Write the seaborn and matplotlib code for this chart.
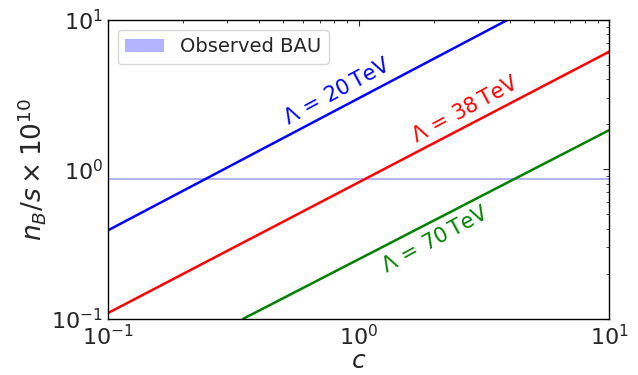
import numpy as np
import pandas as pd
import matplotlib
matplotlib.use("Agg")
import matplotlib.pyplot as plt
import seaborn as sns

# Data (straight lines in log-log space: endpoints)
c_blue = [0.1, 3.93]
nb_blue = [0.39, 10.0]
c_red = [0.1, 10.0]
nb_red = [0.109, 6.13]
c_green = [0.347, 10.0]
nb_green = [0.1, 1.83]
bau_value = 0.862
labels = [r"$\Lambda\,=\,20\,\mathrm{TeV}$", r"$\Lambda\,=\,38\,\mathrm{TeV}$", r"$\Lambda\,=\,70\,\mathrm{TeV}$"]
colors = ["blue", "red", "green"]

sns.set_style("white")
plt.rcParams['font.family'] = ['DejaVu Sans']
plt.rcParams['mathtext.fontset'] = 'dejavusans'

fig, ax = plt.subplots(figsize=(6.38, 3.75), dpi=100)
fig.subplots_adjust(left=0.169, right=0.955, top=0.947, bottom=0.15)

df = pd.concat([
    pd.DataFrame({"c": c_blue, "nb": nb_blue, "s": labels[0]}),
    pd.DataFrame({"c": c_red, "nb": nb_red, "s": labels[1]}),
    pd.DataFrame({"c": c_green, "nb": nb_green, "s": labels[2]}),
])
for lab, col in zip(labels, colors):
    sub = df[df.s == lab]
    sns.lineplot(data=sub, x="c", y="nb", color=col, lw=1.8, ax=ax, legend=False)

ax.axhspan(bau_value * 0.985, bau_value * 1.015, color=(0.7, 0.7, 1.0), lw=0, label="Observed BAU")

ax.set_xscale("log")
ax.set_yscale("log")
ax.set_xlim(0.1, 10)
ax.set_ylim(0.1, 10)

ax.text(0.82, 3.29, labels[0], color="blue", fontsize=15, rotation=28.5, ha="center", va="center")
ax.text(2.67, 2.49, labels[1], color="red", fontsize=15, rotation=28.5, ha="center", va="center")
ax.text(2.02, 0.336, labels[2], color="green", fontsize=15, rotation=28.5, ha="center", va="center")

ax.set_xlabel(r"$c$", fontsize=18, labelpad=0)
ax.set_ylabel(r"$n_B/s \times 10^{10}$", fontsize=19, labelpad=2)
ax.tick_params(which="both", direction="in", top=True, right=True, labelsize=16)
ax.tick_params(which="major", length=4)
ax.tick_params(which="minor", length=2.5)
for sp in ax.spines.values():
    sp.set_color("black")
    sp.set_linewidth(1.0)

leg = ax.legend(loc="upper left", fontsize=14, handlelength=2.0)
fig.savefig("out.png", dpi=100)
